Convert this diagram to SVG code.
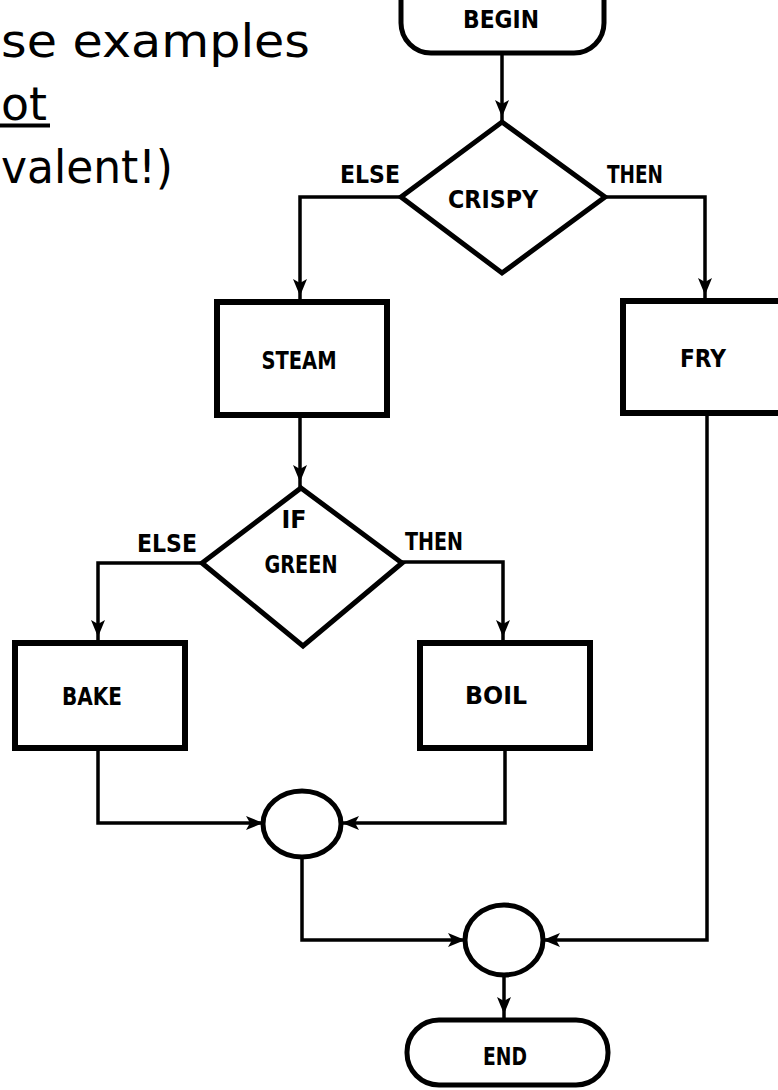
<svg xmlns="http://www.w3.org/2000/svg" width="778" height="1090" viewBox="0 0 778 1090">
<style>
.bg{fill:#fff}
.head{font-family:"DejaVu Sans","Liberation Sans",sans-serif;font-size:46px;fill:#000}
.lbl{font-family:"DejaVu Sans Condensed","DejaVu Sans","Liberation Sans",sans-serif;font-weight:bold;font-stretch:condensed;font-size:25px;fill:#000;text-anchor:middle}
.box{fill:#fff;stroke:#000;stroke-width:6}
.term{fill:#fff;stroke:#000;stroke-width:5}
.dia{fill:#fff;stroke:#000;stroke-width:5;stroke-linejoin:miter}
.junc{fill:#fff;stroke:#000;stroke-width:5}
.con{fill:none;stroke:#000;stroke-width:3.5;stroke-linejoin:miter}
</style>
<defs>
<marker id="arrGap" markerUnits="userSpaceOnUse" markerWidth="26" markerHeight="18" viewBox="0 0 26 18" refX="24" refY="9" orient="auto">
<path d="M1,2 L18,9 L1,16 L5,9 Z" fill="#000"/>
</marker>
<marker id="arrTouch" markerUnits="userSpaceOnUse" markerWidth="20" markerHeight="18" viewBox="0 0 20 18" refX="18" refY="9" orient="auto">
<path d="M1,2 L18,9 L1,16 L5,9 Z" fill="#000"/>
</marker>
</defs>
<rect class="bg" x="0" y="0" width="778" height="1090"/>

<g id="heading">
<text class="head" x="1" y="57" textLength="309" lengthAdjust="spacingAndGlyphs">se examples</text>
<text class="head" x="1" y="120" textLength="46" lengthAdjust="spacingAndGlyphs">ot</text>
<rect x="0" y="123.5" width="50" height="4" fill="#000"/>
<text class="head" x="1" y="183" textLength="172" lengthAdjust="spacingAndGlyphs">valent!)</text>
</g>

<g id="connectors">
<path class="con" d="M502,55 V123" marker-end="url(#arrGap)"/>
<path class="con" d="M401,197 H300 V302" marker-end="url(#arrGap)"/>
<path class="con" d="M605,197 H705 V301" marker-end="url(#arrGap)"/>
<path class="con" d="M300,415 V488" marker-end="url(#arrGap)"/>
<path class="con" d="M202,563 H98 V643" marker-end="url(#arrGap)"/>
<path class="con" d="M402,562 H503 V643" marker-end="url(#arrGap)"/>
<path class="con" d="M98,748 V823 H263" marker-end="url(#arrTouch)"/>
<path class="con" d="M505,748 V823 H342" marker-end="url(#arrTouch)"/>
<path class="con" d="M302,857 V940 H465" marker-end="url(#arrTouch)"/>
<path class="con" d="M707,413 V940 H543" marker-end="url(#arrTouch)"/>
<path class="con" d="M504,975 V1020" marker-end="url(#arrGap)"/>
<text class="lbl" x="370" y="183" textLength="60" lengthAdjust="spacingAndGlyphs">ELSE</text>
<text class="lbl" x="635" y="183" textLength="56" lengthAdjust="spacingAndGlyphs">THEN</text>
<text class="lbl" x="167" y="552" textLength="60" lengthAdjust="spacingAndGlyphs">ELSE</text>
<text class="lbl" x="434" y="550" textLength="58" lengthAdjust="spacingAndGlyphs">THEN</text>
</g>

<g id="begin">
<rect class="term" x="401" y="-35" width="203" height="88" rx="30"/>
<text class="lbl" x="501" y="28" textLength="76" lengthAdjust="spacingAndGlyphs">BEGIN</text>
</g>

<g id="crispy">
<polygon class="dia" points="502,122 605,197 502,273 401,197"/>
<text class="lbl" x="493" y="208" textLength="90" lengthAdjust="spacingAndGlyphs">CRISPY</text>
</g>

<g id="steam">
<rect class="box" x="217" y="302" width="170" height="113"/>
<text class="lbl" x="299" y="369" textLength="75" lengthAdjust="spacingAndGlyphs">STEAM</text>
</g>

<g id="fry">
<rect class="box" x="623" y="301" width="180" height="112"/>
<text class="lbl" x="703" y="367" textLength="46" lengthAdjust="spacingAndGlyphs">FRY</text>
</g>

<g id="green">
<polygon class="dia" points="301,488 402,563 303,646 202,563"/>
<text class="lbl" x="294" y="528" textLength="25" lengthAdjust="spacingAndGlyphs">IF</text>
<text class="lbl" x="301" y="573" textLength="73" lengthAdjust="spacingAndGlyphs">GREEN</text>
</g>

<g id="bake">
<rect class="box" x="15" y="643" width="170" height="105"/>
<text class="lbl" x="92" y="705" textLength="60" lengthAdjust="spacingAndGlyphs">BAKE</text>
</g>

<g id="boil">
<rect class="box" x="420" y="643" width="170" height="105"/>
<text class="lbl" x="496" y="704" textLength="62" lengthAdjust="spacingAndGlyphs">BOIL</text>
</g>

<g id="merge1">
<ellipse class="junc" cx="302" cy="824" rx="39" ry="33"/>
</g>

<g id="merge2">
<ellipse class="junc" cx="504" cy="940" rx="39" ry="35"/>
</g>

<g id="end">
<rect class="term" x="407" y="1020" width="201" height="65" rx="32"/>
<text class="lbl" x="505" y="1065" textLength="44" lengthAdjust="spacingAndGlyphs">END</text>
</g>
</svg>
